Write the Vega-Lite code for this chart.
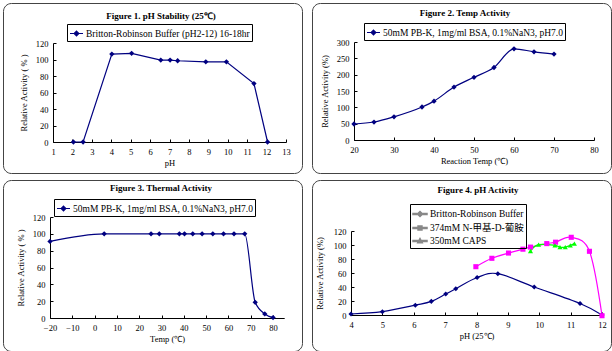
{
  "$schema": "https://vega.github.io/schema/vega-lite/v6.json",
  "background": "white",
  "padding": {"left": 2, "top": 2, "right": 0, "bottom": 0},
  "datasets": {
    "p1": [
      {"series": "Britton-Robinson Buffer (pH2-12) 16-18hr", "pH": 2.05, "activity": 0},
      {"series": "Britton-Robinson Buffer (pH2-12) 16-18hr", "pH": 2.55, "activity": 0},
      {"series": "Britton-Robinson Buffer (pH2-12) 16-18hr", "pH": 4.03, "activity": 106.6},
      {"series": "Britton-Robinson Buffer (pH2-12) 16-18hr", "pH": 5.05, "activity": 107.5},
      {"series": "Britton-Robinson Buffer (pH2-12) 16-18hr", "pH": 6.55, "activity": 99.3},
      {"series": "Britton-Robinson Buffer (pH2-12) 16-18hr", "pH": 7.03, "activity": 99.3},
      {"series": "Britton-Robinson Buffer (pH2-12) 16-18hr", "pH": 7.42, "activity": 98.5},
      {"series": "Britton-Robinson Buffer (pH2-12) 16-18hr", "pH": 8.87, "activity": 97.2},
      {"series": "Britton-Robinson Buffer (pH2-12) 16-18hr", "pH": 9.93, "activity": 97.2},
      {"series": "Britton-Robinson Buffer (pH2-12) 16-18hr", "pH": 11.35, "activity": 70.8},
      {"series": "Britton-Robinson Buffer (pH2-12) 16-18hr", "pH": 12.05, "activity": 0}
    ],
    "p2": [
      {"series": "50mM PB-K, 1mg/ml BSA, 0.1%NaN3, pH7.0", "temp": 20, "activity": 49},
      {"series": "50mM PB-K, 1mg/ml BSA, 0.1%NaN3, pH7.0", "temp": 25, "activity": 55},
      {"series": "50mM PB-K, 1mg/ml BSA, 0.1%NaN3, pH7.0", "temp": 30, "activity": 71},
      {"series": "50mM PB-K, 1mg/ml BSA, 0.1%NaN3, pH7.0", "temp": 37, "activity": 101},
      {"series": "50mM PB-K, 1mg/ml BSA, 0.1%NaN3, pH7.0", "temp": 40, "activity": 119},
      {"series": "50mM PB-K, 1mg/ml BSA, 0.1%NaN3, pH7.0", "temp": 45, "activity": 162},
      {"series": "50mM PB-K, 1mg/ml BSA, 0.1%NaN3, pH7.0", "temp": 50, "activity": 192},
      {"series": "50mM PB-K, 1mg/ml BSA, 0.1%NaN3, pH7.0", "temp": 55, "activity": 222},
      {"series": "50mM PB-K, 1mg/ml BSA, 0.1%NaN3, pH7.0", "temp": 60, "activity": 279},
      {"series": "50mM PB-K, 1mg/ml BSA, 0.1%NaN3, pH7.0", "temp": 65, "activity": 270},
      {"series": "50mM PB-K, 1mg/ml BSA, 0.1%NaN3, pH7.0", "temp": 70, "activity": 263}
    ],
    "p3": [
      {"series": "50mM PB-K, 1mg/ml BSA, 0.1%NaN3, pH7.0", "temp": -20, "activity": 91},
      {"series": "50mM PB-K, 1mg/ml BSA, 0.1%NaN3, pH7.0", "temp": 4.3, "activity": 100},
      {"series": "50mM PB-K, 1mg/ml BSA, 0.1%NaN3, pH7.0", "temp": 25.3, "activity": 100},
      {"series": "50mM PB-K, 1mg/ml BSA, 0.1%NaN3, pH7.0", "temp": 29, "activity": 100},
      {"series": "50mM PB-K, 1mg/ml BSA, 0.1%NaN3, pH7.0", "temp": 38, "activity": 100},
      {"series": "50mM PB-K, 1mg/ml BSA, 0.1%NaN3, pH7.0", "temp": 40.3, "activity": 100},
      {"series": "50mM PB-K, 1mg/ml BSA, 0.1%NaN3, pH7.0", "temp": 44, "activity": 100},
      {"series": "50mM PB-K, 1mg/ml BSA, 0.1%NaN3, pH7.0", "temp": 48.2, "activity": 100},
      {"series": "50mM PB-K, 1mg/ml BSA, 0.1%NaN3, pH7.0", "temp": 53, "activity": 100},
      {"series": "50mM PB-K, 1mg/ml BSA, 0.1%NaN3, pH7.0", "temp": 57.8, "activity": 100},
      {"series": "50mM PB-K, 1mg/ml BSA, 0.1%NaN3, pH7.0", "temp": 62.5, "activity": 100},
      {"series": "50mM PB-K, 1mg/ml BSA, 0.1%NaN3, pH7.0", "temp": 67.3, "activity": 100},
      {"series": "50mM PB-K, 1mg/ml BSA, 0.1%NaN3, pH7.0", "temp": 72, "activity": 18.6},
      {"series": "50mM PB-K, 1mg/ml BSA, 0.1%NaN3, pH7.0", "temp": 76.3, "activity": 4.8},
      {"series": "50mM PB-K, 1mg/ml BSA, 0.1%NaN3, pH7.0", "temp": 80, "activity": 0.5}
    ],
    "p4": [
      {"series": "Britton-Robinson Buffer", "pH": 4, "activity": 1.4},
      {"series": "Britton-Robinson Buffer", "pH": 5, "activity": 4.7},
      {"series": "Britton-Robinson Buffer", "pH": 6.05, "activity": 14},
      {"series": "Britton-Robinson Buffer", "pH": 6.56, "activity": 19.5},
      {"series": "Britton-Robinson Buffer", "pH": 7.02, "activity": 30},
      {"series": "Britton-Robinson Buffer", "pH": 7.34, "activity": 37.5},
      {"series": "Britton-Robinson Buffer", "pH": 8.02, "activity": 53.5},
      {"series": "Britton-Robinson Buffer", "pH": 8.68, "activity": 59},
      {"series": "Britton-Robinson Buffer", "pH": 9.84, "activity": 40},
      {"series": "Britton-Robinson Buffer", "pH": 11.3, "activity": 16.5},
      {"series": "Britton-Robinson Buffer", "pH": 12, "activity": 0},
      {"series": "374mM N-甲基-D-葡胺", "pH": 7.98, "activity": 69},
      {"series": "374mM N-甲基-D-葡胺", "pH": 8.49, "activity": 81},
      {"series": "374mM N-甲基-D-葡胺", "pH": 9.02, "activity": 88.5},
      {"series": "374mM N-甲基-D-葡胺", "pH": 9.48, "activity": 94},
      {"series": "374mM N-甲基-D-葡胺", "pH": 9.72, "activity": 97},
      {"series": "374mM N-甲基-D-葡胺", "pH": 10.24, "activity": 102},
      {"series": "374mM N-甲基-D-葡胺", "pH": 10.52, "activity": 104},
      {"series": "374mM N-甲基-D-葡胺", "pH": 11.02, "activity": 111},
      {"series": "374mM N-甲基-D-葡胺", "pH": 11.6, "activity": 91},
      {"series": "374mM N-甲基-D-葡胺", "pH": 12, "activity": -1},
      {"series": "350mM CAPS", "pH": 9.72, "activity": 91.5},
      {"series": "350mM CAPS", "pH": 9.98, "activity": 100.5},
      {"series": "350mM CAPS", "pH": 10.5, "activity": 99.5},
      {"series": "350mM CAPS", "pH": 10.66, "activity": 97},
      {"series": "350mM CAPS", "pH": 10.83, "activity": 97},
      {"series": "350mM CAPS", "pH": 10.99, "activity": 99.5},
      {"series": "350mM CAPS", "pH": 11.12, "activity": 102}
    ]
  },
  "spacing": 5,
  "resolve": {"scale": {"color": "independent", "shape": "independent"}, "legend": {"color": "independent", "shape": "independent"}},
  "vconcat": [
    {
      "spacing": 8,
      "resolve": {"scale": {"color": "independent", "shape": "independent"}, "legend": {"color": "independent", "shape": "independent"}},
      "hconcat": [
        {
          "width": 299, "height": 170,
          "title": {"text": "Figure 1. pH Stability (25℃)", "offset": -18, "dx": 8.5},
          "data": {"name": "p1"},
          "encoding": {
            "x": {"field": "pH", "type": "quantitative",
                  "scale": {"domain": [1, 13], "range": [50, 283], "nice": false, "zero": false},
                  "axis": {"values": [1,2,3,4,5,6,7,8,9,10,11,12,13], "offset": -31, "title": "pH"}},
            "y": {"field": "activity", "type": "quantitative",
                  "scale": {"domain": [0, 120], "range": [139, 40], "nice": false},
                  "axis": {"values": [0,20,40,60,80,100,120], "offset": -50, "title": "Relative Activity ( % )"}},
            "color": {"field": "series", "type": "nominal", "scale": {"range": ["#000080"]},
                      "legend": {"orient": "none", "legendX": 64, "legendY": 21, "title": null, "padding": 2,
                                 "symbolType": "M-1,0H1M0,-0.36L0.36,0L0,0.36L-0.36,0Z", "symbolSize": 169,
                                 "symbolFillColor": "#000080", "symbolStrokeColor": "#000080", "symbolStrokeWidth": 1.2}}
          },
          "layer": [
            {"mark": {"type": "line", "strokeWidth": 1.2}},
            {"mark": {"type": "point", "shape": "diamond", "filled": true, "opacity": 1, "size": 28}}
          ]
        },
        {
          "width": 299, "height": 170,
          "title": {"text": "Figure 2. Temp Activity", "offset": -15, "dx": 3.5},
          "data": {"name": "p2"},
          "encoding": {
            "x": {"field": "temp", "type": "quantitative",
                  "scale": {"domain": [20, 80], "range": [42, 282], "nice": false, "zero": false},
                  "axis": {"values": [20,30,40,50,60,70,80], "offset": -33, "title": "Reaction Temp (℃)"}},
            "y": {"field": "activity", "type": "quantitative",
                  "scale": {"domain": [0, 300], "range": [137, 39], "nice": false},
                  "axis": {"values": [0,50,100,150,200,250,300], "offset": -42, "title": "Relative Activity (%)"}},
            "color": {"field": "series", "type": "nominal", "scale": {"range": ["#000080"]},
                      "legend": {"orient": "none", "legendX": 52, "legendY": 20, "title": null, "padding": 2,
                                 "symbolType": "M-1,0H1M0,-0.36L0.36,0L0,0.36L-0.36,0Z", "symbolSize": 169,
                                 "symbolFillColor": "#000080", "symbolStrokeColor": "#000080", "symbolStrokeWidth": 1.2}}
          },
          "layer": [
            {"mark": {"type": "line", "strokeWidth": 1.2, "interpolate": "monotone"}},
            {"mark": {"type": "point", "shape": "diamond", "filled": true, "opacity": 1, "size": 28}}
          ]
        }
      ]
    },
    {
      "spacing": 8,
      "resolve": {"scale": {"color": "independent", "shape": "independent"}, "legend": {"color": "independent", "shape": "independent"}},
      "hconcat": [
        {
          "width": 299, "height": 171,
          "title": {"text": "Figure 3. Thermal Activity", "offset": -13, "dx": 8.5},
          "data": {"name": "p3"},
          "encoding": {
            "x": {"field": "temp", "type": "quantitative",
                  "scale": {"domain": [-20, 85], "range": [47, 281.2], "nice": false, "zero": false},
                  "axis": {"values": [-20,-10,0,10,20,30,40,50,60,70,80], "offset": -33, "title": "Temp (℃)"}},
            "y": {"field": "activity", "type": "quantitative",
                  "scale": {"domain": [0, 120], "range": [138, 37], "nice": false},
                  "axis": {"values": [0,20,40,60,80,100,120], "offset": -47, "title": "Relative Activity ( % )"}},
            "color": {"field": "series", "type": "nominal", "scale": {"range": ["#000080"]},
                      "legend": {"orient": "none", "legendX": 51, "legendY": 19, "title": null, "padding": 2,
                                 "symbolType": "M-1,0H1M0,-0.36L0.36,0L0,0.36L-0.36,0Z", "symbolSize": 169,
                                 "symbolFillColor": "#000080", "symbolStrokeColor": "#000080", "symbolStrokeWidth": 1.2}}
          },
          "layer": [
            {"mark": {"type": "line", "strokeWidth": 1.2, "interpolate": "monotone"}},
            {"mark": {"type": "point", "shape": "diamond", "filled": true, "opacity": 1, "size": 28}}
          ]
        },
        {
          "width": 299, "height": 171,
          "title": {"text": "Figure 4. pH Activity", "offset": -15, "dx": 16.5},
          "data": {"name": "p4"},
          "resolve": {"scale": {"shape": "independent"}},
          "encoding": {
            "x": {"field": "pH", "type": "quantitative",
                  "scale": {"domain": [4, 12], "range": [39, 290], "nice": false, "zero": false},
                  "axis": {"values": [4,5,6,7,8,9,10,11,12], "offset": -36, "title": "pH (25℃)"}},
            "y": {"field": "activity", "type": "quantitative",
                  "scale": {"domain": [0, 120], "range": [135, 51], "nice": false},
                  "axis": {"values": [0,20,40,60,80,100,120], "offset": -39, "title": "Relative Activity (%)", "titlePadding": 9}}
          },
          "layer": [
            {
              "mark": {"type": "line", "strokeWidth": 1.2, "interpolate": "cardinal"},
              "encoding": {
                "color": {"field": "series", "type": "nominal", "legend": null,
                          "scale": {"domain": ["Britton-Robinson Buffer", "374mM N-甲基-D-葡胺", "350mM CAPS"], "range": ["#000080", "#FF00FF", "#00FF00"]}}
              }
            },
            {
              "mark": {"type": "point", "filled": true, "opacity": 1, "size": 26},
              "encoding": {
                "color": {"field": "series", "type": "nominal", "legend": null},
                "shape": {"field": "series", "type": "nominal", "legend": null,
                          "scale": {"domain": ["Britton-Robinson Buffer", "374mM N-甲基-D-葡胺", "350mM CAPS"], "range": ["diamond", "square", "triangle-up"]}}
              }
            },
            {
              "mark": {"type": "point", "filled": true, "opacity": 0, "size": 26},
              "encoding": {
                "color": {"field": "series", "type": "nominal",
                          "legend": {"orient": "none", "legendX": 98, "legendY": 24, "title": null, "strokeColor": "black",
                                     "padding": 2, "rowPadding": -2.5, "symbolSize": 196, "symbolOpacity": 1, "symbolFillColor": "#000080"}},
                "shape": {"field": "series", "type": "nominal",
                          "scale": {"domain": ["Britton-Robinson Buffer", "374mM N-甲基-D-葡胺", "350mM CAPS"],
                                    "range": ["M-1,-0.07H1V0.07H-1ZM0,-0.36L0.36,0L0,0.36L-0.36,0Z", "M-1,-0.07H1V0.07H-1ZM-0.28,-0.28H0.28V0.28H-0.28Z", "M-1,-0.07H1V0.07H-1ZM0,-0.36L0.32,0.24L-0.32,0.24Z"]},
                          "legend": {"orient": "none", "legendX": 98, "legendY": 24, "title": null, "strokeColor": "black",
                                     "padding": 2, "rowPadding": -2.5, "symbolSize": 196, "symbolOpacity": 1, "symbolFillColor": "#000080"}}
              }
            }
          ]
        }
      ]
    }
  ],
  "config": {
    "view": {"stroke": "#444", "strokeWidth": 1, "cornerRadius": 8},
    "title": {"font": "Liberation Serif", "fontSize": 9, "fontWeight": "bold", "color": "black", "anchor": "middle", "frame": "group"},
    "axis": {"labelFont": "Liberation Serif", "labelFontSize": 8.5, "titleFont": "Liberation Serif", "titleFontSize": 8.5,
             "titleFontWeight": "normal", "labelColor": "black", "titleColor": "black", "domainColor": "black",
             "tickColor": "black", "tickSize": -3, "labelPadding": 8, "grid": false, "labelFlush": false, "labelOverlap": false},
    "axisX": {"titlePadding": 3},
    "axisY": {"titlePadding": 7},
    "legend": {"labelFont": "Liberation Serif, Noto Sans CJK SC", "labelFontSize": 9.5, "labelColor": "black", "strokeColor": "black",
               "padding": 3, "labelOffset": 2, "rowPadding": 2, "labelLimit": 400}
  }
}
